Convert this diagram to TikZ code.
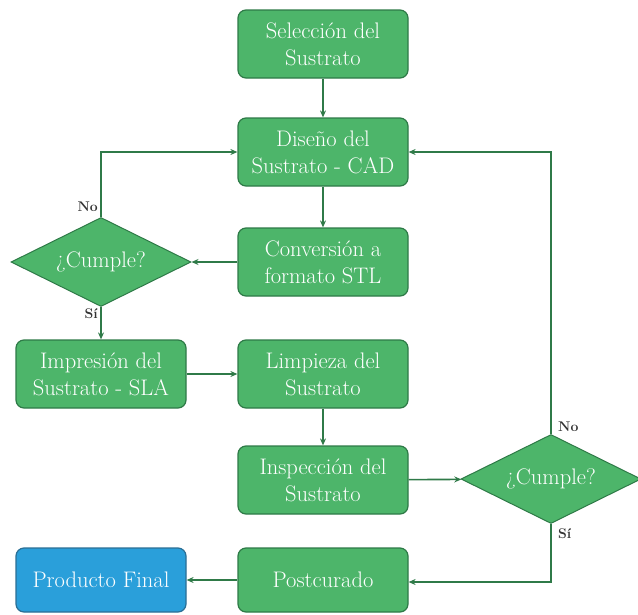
\documentclass[tikz,border=0pt]{standalone}
\usetikzlibrary{shapes.geometric,arrows.meta}
\definecolor{boxgreen}{HTML}{4DB56A}
\definecolor{boxedge}{HTML}{2E7A47}
\definecolor{linegreen}{HTML}{2F7A48}
\definecolor{boxblue}{HTML}{2A9FDA}
\definecolor{boxblueedge}{HTML}{2A6F95}
\definecolor{lbl}{HTML}{333333}
\begin{document}
\begin{tikzpicture}[x=1pt,y=-1pt,
  proc/.style={draw=boxedge, line width=1.2pt, fill=boxgreen, rounded corners=8pt,
    minimum width=170pt, minimum height=68pt, text=white, align=center,
    font=\fontsize{22.5}{27}\selectfont, inner sep=2pt},
  fin/.style={proc, fill=boxblue, draw=boxblueedge, minimum height=64pt},
  dec/.style={diamond, aspect=2, draw=boxedge, line width=1pt, fill=boxgreen,
    minimum width=180pt, minimum height=89pt, inner sep=0pt, text=white,
    font=\fontsize{22.5}{27}\selectfont},
  conn/.style={draw=linegreen, line width=1.6pt, -{Stealth[length=7pt,width=6pt]}},
  lab/.style={text=lbl, font=\bfseries\fontsize{14}{16}\selectfont, inner sep=1pt}]
\useasboundingbox (0,0) rectangle (638,614);

\node[proc] (sel) at (323,44) {Selección del\\Sustrato};
\node[proc] (dis) at (323,152) {Diseño del\\Sustrato - CAD};
\node[proc] (con) at (323,262) {Conversión a\\formato STL};
\node[dec] (d1) at (101,262) {¿Cumple?};
\node[proc] (imp) at (101,374) {Impresión del\\Sustrato - SLA};
\node[proc] (lim) at (323,374) {Limpieza del\\Sustrato};
\node[proc] (ins) at (323,480) {Inspección del\\Sustrato};
\node[dec] (d2) at (551,479) {¿Cumple?};
\node[proc, minimum height=64pt] (pos) at (323,580) {Postcurado};
\node[fin] (prod) at (101,580) {Producto Final};

\draw[conn] (sel) -- (dis);
\draw[conn] (dis) -- (con);
\draw[conn] (con) -- (d1);
\draw[conn] (d1.north) -- (d1.north |- dis.west) -- (dis.west);
\draw[conn] (d1.south) -- (imp.north);
\draw[conn] (imp) -- (lim);
\draw[conn] (lim) -- (ins);
\draw[conn] (ins) -- (d2);
\draw[conn] (d2.north) -- (d2.north |- dis.east) -- (dis.east);
\coordinate (c2) at (551,582);
\draw[conn] (d2.south) -- (c2) -- (pos.east |- c2);
\draw[conn] (pos) -- (prod);

\node[lab, anchor=east] (no1) at (99,207) {No};
\node[lab, anchor=east] (si1) at (99,314) {Sí};
\node[lab, anchor=west] (no2) at (557,427) {No};
\node[lab, anchor=west] (si2) at (557,534) {Sí};
\end{tikzpicture}
\end{document}
